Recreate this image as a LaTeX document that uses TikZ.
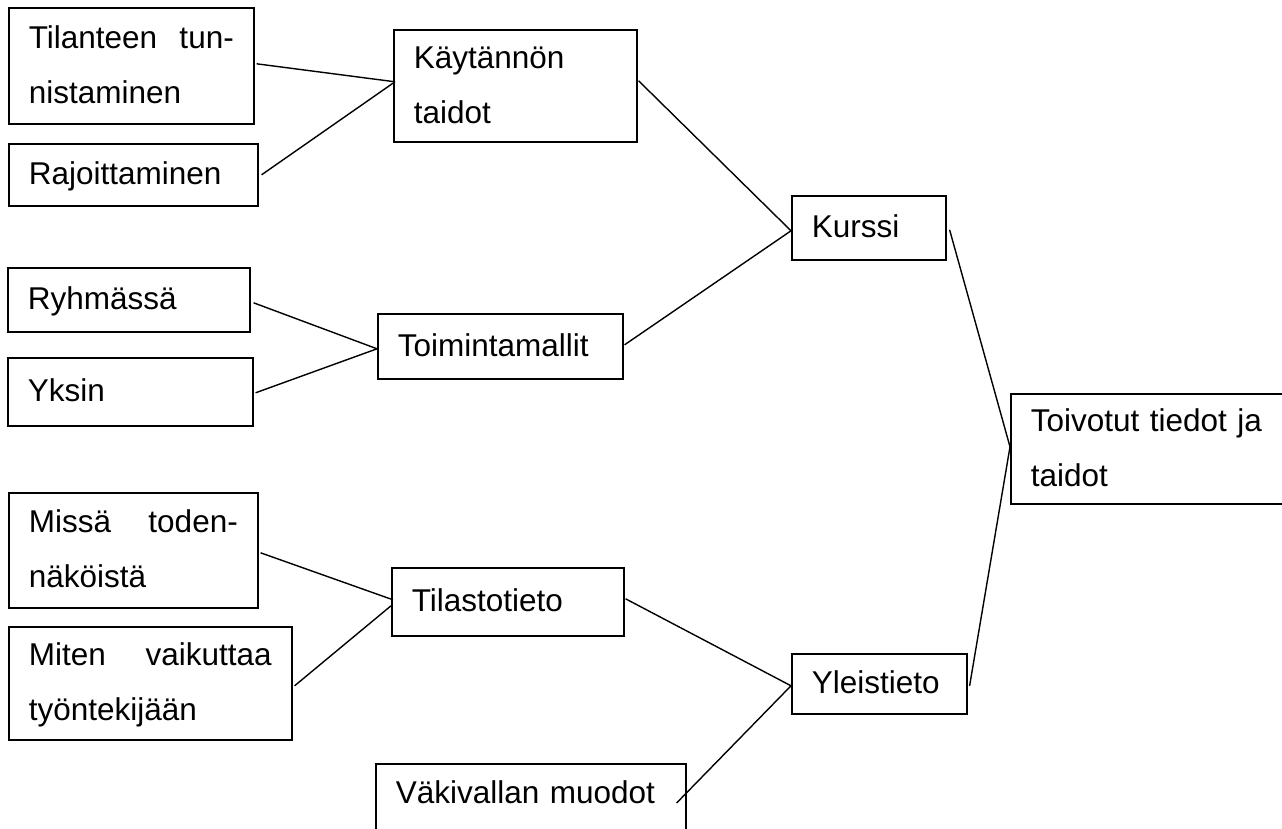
\documentclass[tikz,border=0pt]{standalone}
\usepackage{fontspec}
\setmainfont{Liberation Sans}
\usetikzlibrary{calc}
% strut giving every text line the same height and baseline distance
\newcommand\linestrut{\rule[-17.5pt]{0pt}{55pt}}
\newcommand\deepstrut{\rule[-37.5pt]{0pt}{75pt}}
\tikzset{
  box/.style={draw, line width=1.6pt, anchor=north west, inner xsep=20pt,
    inner ysep=0pt, align=left, font=\fontsize{31.5}{55}\selectfont},
  link/.style={line width=1.4pt},
}
\begin{document}
\begin{tikzpicture}[x=1pt,y=-1pt]
\useasboundingbox (0,0) rectangle (1282,829);
\fill[white] (0,0) rectangle (1282,829);
\clip (0,0) rectangle (1282,829);

% left column
\node[box, text width=205pt, minimum height=116pt] (til) at (8,7)
  {\linestrut Tilanteen\hfill tun-\\nistaminen\linestrut};
\node[box, text width=209pt, minimum height=62pt] (raj) at (8,143)
  {\linestrut Rajoittaminen};
\node[box, text width=202pt, minimum height=64pt] (rym) at (7,267)
  {\linestrut Ryhmässä};
\node[box, text width=205pt, minimum height=68pt] (yks) at (7,357)
  {\linestrut Yksin};
\node[box, text width=209pt, minimum height=115pt] (mis) at (8,492)
  {\linestrut Missä\hfill toden-\\näköistä\linestrut};
\node[box, text width=243pt, minimum height=113pt] (mit) at (8,626)
  {\linestrut Miten\hfill vaikuttaa\\työntekijään\linestrut};

% middle column
\node[box, text width=203pt, minimum height=112pt] (kay) at (393,29)
  {\linestrut Käytännön\\taidot\linestrut};
\node[box, text width=205pt, minimum height=65pt] (toi) at (377,313)
  {\linestrut Toimintamallit};
\node[box, text width=192pt, minimum height=68pt] (tila) at (391,567)
  {\linestrut Tilastotieto};
\node[box, text width=270pt, minimum height=80pt] (vak) at (375,763)
  {\deepstrut Väkivallan muodot};

% right columns
\node[box, text width=114pt, minimum height=64pt] (kur) at (791,195)
  {\linestrut Kurssi};
\node[box, text width=135pt, minimum height=60pt] (yle) at (791,653)
  {\linestrut Yleistieto};
\node[box, text width=245pt, minimum height=110pt] (toiv) at (1010,393)
  {\linestrut Toivotut tiedot ja\\taidot\linestrut};

\coordinate (vakend) at ($(vak.north east)+(-10,40)$);

% connectors
\draw[link] ($(til.east)+(2,-2)$) -- ($(kay.west)+(2,-4)$);
\draw[link] ($(raj.east)+(3,0)$) -- ($(kay.west)+(2,-4)$);
\draw[link] ($(rym.east)+(3,3)$) -- ($(toi.west)+(0,2.5)$);
\draw[link] ($(yks.east)+(2,1)$) -- ($(toi.west)+(0,2.5)$);
\draw[link] ($(kay.east)+(1,-5)$) -- ($(kur.west)+(0,3)$);
\draw[link] ($(toi.east)+(1,-1.5)$) -- ($(kur.west)+(0,3)$);
\draw[link] ($(mis.east)+(2,2.5)$) -- ($(tila.west)+(2,-2)$);
\draw[link] ($(mit.east)+(2,2.5)$) -- ($(tila.west)+(0,4)$);
\draw[link] ($(tila.east)+(1,-3)$) -- ($(yle.west)+(0,2)$);
\draw[link] (vakend) -- ($(yle.west)+(0,2)$);
\draw[link] ($(kur.east)+(3,2)$) -- ($(toiv.west)+(0,-2)$);
\draw[link] ($(yle.east)+(2,2)$) -- ($(toiv.west)+(0,-2)$);
\end{tikzpicture}
\end{document}
